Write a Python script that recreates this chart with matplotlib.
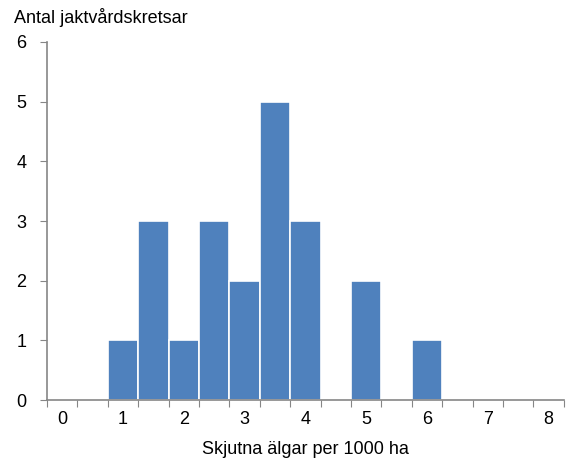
import matplotlib.pyplot as plt
import numpy as np

plt.rcParams['font.family'] = ['Liberation Sans', 'DejaVu Sans']

# bin centres (elk shot per 1000 ha) and number of districts per bin
bin_centres = [0, 0.5, 1, 1.5, 2, 2.5, 3, 3.5, 4, 4.5, 5, 5.5, 6, 6.5, 7, 7.5, 8]
counts = [0, 0, 1, 3, 1, 3, 2, 5, 3, 0, 2, 0, 1, 0, 0, 0, 0]
tick_labels = ['0', '1', '2', '3', '4', '5', '6', '7', '8']

bar_color = '#4F81BD'
axis_color = '#868686'

fig = plt.figure(figsize=(5.69, 4.66), dpi=100)
ax = fig.add_axes([0.0826, 0.1416, 0.9084, 0.7683])

ax.bar(bin_centres, counts, width=0.5, color=bar_color,
       edgecolor='white', linewidth=1.2)

ax.set_xlim(-0.25, 8.25)
ax.set_ylim(0, 6)

# tick marks at bin edges, labels at integer bin centres
edges = np.arange(-0.25, 8.26, 0.5)
ax.set_xticks(edges)
ax.set_xticklabels([])
ax.set_xticks(range(9), minor=True)
ax.set_xticklabels(tick_labels, minor=True)
ax.tick_params(axis='x', which='minor', length=0, pad=8, labelsize=13)
ax.tick_params(axis='x', which='major', length=5, color=axis_color, direction='out')
ax.set_yticks(range(7))
ax.tick_params(axis='y', length=5, color=axis_color, direction='out', labelsize=13, pad=10)

for side in ['top', 'right']:
    ax.spines[side].set_visible(False)
for side in ['left', 'bottom']:
    ax.spines[side].set_color(axis_color)
    ax.spines[side].set_linewidth(1.2)

fig.text(0.024, 0.962, 'Antal jaktvårdskretsar', fontsize=13, va='center', ha='left')
ax.set_xlabel('Skjutna älgar per 1000 ha', fontsize=13, labelpad=9)

fig.savefig('out.png', dpi=100)
